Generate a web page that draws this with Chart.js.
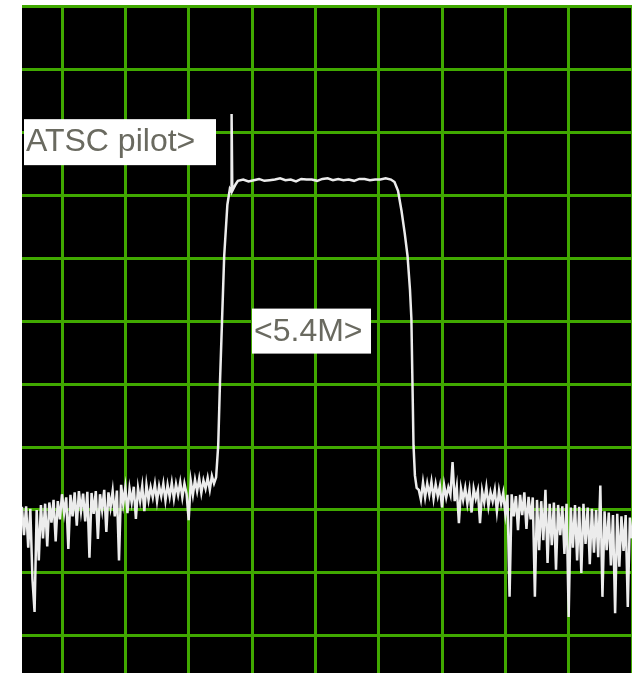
<!DOCTYPE html>
<html>
<head>
<meta charset="utf-8">
<script src="https://cdn.jsdelivr.net/npm/chart.js@4/dist/chart.umd.min.js"></script>
<style>
    body { margin: 0; background: #ffffff; }
    #wrap { position: relative; width: 632px; height: 673px; }
</style>
</head>
<body>
<div id="wrap"><canvas id="spectrum"></canvas></div>
<script>
// sweep readings, frequency offset in MHz (1.8 MHz / div) and level in dB (10 dB / div)
const leftFloorMHz = [
    -1.14, -1.08, -1.02, -0.96, -0.90, -0.84, -0.78, -0.72, -0.66, -0.60,
    -0.54, -0.48, -0.42, -0.36, -0.30, -0.24, -0.18, -0.12, -0.06, 0.00,
    0.06, 0.12, 0.18, 0.24, 0.30, 0.36, 0.42, 0.48, 0.54, 0.60,
    0.66, 0.72, 0.78, 0.84, 0.90, 0.96, 1.02, 1.08, 1.14, 1.20,
    1.26, 1.32, 1.38, 1.44, 1.50, 1.56, 1.62, 1.68, 1.74, 1.80,
    1.86, 1.92, 1.98, 2.04, 2.10, 2.16, 2.22, 2.28, 2.34, 2.40,
    2.46, 2.52, 2.58, 2.64, 2.70, 2.76, 2.82, 2.88, 2.94, 3.00,
    3.06, 3.12, 3.18, 3.24, 3.30, 3.36, 3.42, 3.48, 3.54, 3.60,
    3.66, 3.72, 3.78, 3.84, 3.90, 3.96, 4.02, 4.08, 4.14, 4.20,
    4.26, 4.32
];
const leftFloorDb = [
    -79.5, -84.0, -79.4, -86.0, -79.8, -91.0, -96.2, -80.0, -88.0, -79.2,
    -84.5, -79.0, -85.8, -78.8, -82.0, -78.4, -85.0, -78.6, -81.5, -77.5,
    -80.5, -78.0, -86.2, -77.6, -81.0, -77.2, -82.5, -77.0, -80.2, -77.4,
    -81.8, -77.1, -87.6, -77.3, -80.6, -77.0, -84.6, -77.5, -80.0, -76.8,
    -83.5, -77.2, -79.6, -77.0, -81.0, -76.9, -88.0, -76.0, -79.0, -76.4,
    -80.5, -76.6, -78.8, -76.3, -81.4, -76.5, -78.6, -76.2, -80.2, -76.0,
    -78.4, -76.4, -78.0, -75.9, -78.6, -76.2, -77.8, -75.8, -78.5, -76.0,
    -77.9, -75.7, -78.2, -75.9, -77.6, -75.6, -78.0, -75.8, -77.4, -81.6,
    -75.4, -77.6, -75.2, -77.0, -75.0, -77.3, -75.3, -76.6, -74.9, -76.8,
    -74.6, -75.8
];

const channelMHz = [
    4.38, 4.44, 4.49, 4.55, 4.61, 4.70, 4.77, 4.81, 4.82, 4.84,
    4.94, 5.00, 5.15, 5.30, 5.45, 5.60, 5.75, 5.90, 6.05, 6.20,
    6.35, 6.50, 6.65, 6.80, 6.95, 7.10, 7.25, 7.40, 7.55, 7.70,
    7.85, 8.00, 8.15, 8.30, 8.45, 8.60, 8.75, 8.90, 9.05, 9.20,
    9.35, 9.45, 9.55, 9.65, 9.74, 9.82, 9.89, 9.93, 9.96, 9.99,
    10.03, 10.08
];
const channelDb = [
    -74.8, -69.7, -59.7, -49.6, -39.6, -31.5, -29.0, -29.4, -17.1, -29.3,
    -28.2, -27.7, -27.5, -27.8, -27.6, -27.4, -27.7, -27.6, -27.5, -27.3,
    -27.6, -27.5, -27.8, -27.4, -27.5, -27.5, -27.7, -27.4, -27.3, -27.6,
    -27.4, -27.6, -27.5, -27.7, -27.4, -27.4, -27.6, -27.5, -27.5, -27.3,
    -27.5, -27.9, -29.3, -32.5, -36.0, -39.6, -45.0, -49.6, -59.7, -69.7,
    -74.5, -76.5
];

const rightFloorMHz = [
    10.14, 10.20, 10.26, 10.32, 10.38, 10.44, 10.50, 10.56, 10.62, 10.68,
    10.74, 10.80, 10.86, 10.92, 10.98, 11.04, 11.10, 11.16, 11.22, 11.28,
    11.34, 11.40, 11.46, 11.52, 11.58, 11.64, 11.70, 11.76, 11.82, 11.88,
    11.94, 12.00, 12.06, 12.12, 12.18, 12.24, 12.30, 12.36, 12.42, 12.48,
    12.54, 12.60, 12.66, 12.72, 12.78, 12.84, 12.90, 12.96, 13.02, 13.08,
    13.14, 13.20, 13.26, 13.32, 13.38, 13.44, 13.50, 13.56, 13.62, 13.68,
    13.74, 13.80, 13.86, 13.92, 13.98, 14.04, 14.10, 14.16, 14.22, 14.28,
    14.34, 14.40, 14.46, 14.52, 14.58, 14.64, 14.70, 14.76, 14.82, 14.88,
    14.94, 15.00, 15.06, 15.12, 15.18, 15.24, 15.30, 15.36, 15.42, 15.48,
    15.54, 15.60, 15.66, 15.72, 15.78, 15.84, 15.90, 15.96, 16.02, 16.08,
    16.14, 16.20
];
const rightFloorDb = [
    -76.8, -78.4, -75.6, -78.0, -75.8, -77.6, -75.5, -78.2, -75.9, -77.8,
    -76.2, -79.6, -76.0, -78.0, -76.4, -77.6, -72.4, -78.6, -76.3, -82.1,
    -76.6, -78.4, -76.5, -79.0, -76.8, -80.4, -76.6, -78.2, -76.9, -82.1,
    -77.0, -78.8, -76.4, -79.4, -77.2, -78.6, -76.8, -80.2, -77.0, -79.0,
    -77.3, -80.6, -77.6, -93.8, -77.5, -81.0, -77.8, -83.2, -77.6, -80.8,
    -77.2, -83.0, -77.9, -81.5, -78.0, -93.8, -78.4, -86.4, -78.6, -84.8,
    -76.8, -88.4, -79.0, -85.6, -78.8, -89.5, -79.2, -84.0, -79.4, -87.0,
    -79.0, -97.0, -79.6, -86.0, -79.2, -88.0, -79.5, -90.0, -79.0, -85.4,
    -79.6, -88.6, -79.8, -86.8, -80.0, -87.5, -76.1, -93.8, -80.2, -86.4,
    -80.4, -88.8, -80.8, -96.4, -80.6, -89.0, -81.0, -86.5, -80.8, -95.4,
    -81.2, -84.5
];

// graticule
const freqTicks = [0, 1.8, 3.6, 5.4, 7.2, 9.0, 10.8, 12.6, 14.4, 16.2];
const levelTicks = [-100, -90, -80, -70, -60, -50, -40, -30, -20, -10, 0];

// marker boxes, anchored at their top-left corner in data units
const notes = [
    { text: "ATSC pilot>", mhz: -1.08, db: -17.9, w: 192, h: 46 },
    { text: "<5.4M>", mhz: 5.40, db: -48.0, w: 119, h: 45 }
];

let freqs = leftFloorMHz.concat(channelMHz, rightFloorMHz);
let levels = leftFloorDb.concat(channelDb, rightFloorDb);
let points = freqs.map((f, i) => ({ x: f, y: levels[i] }));

const screenPlugin = {
    id: "screen",
    beforeDraw(chart) {
        const { ctx, chartArea } = chart;
        ctx.save();
        ctx.fillStyle = "#000000";
        ctx.fillRect(chartArea.left, chartArea.top - 1.5, chartArea.right - chartArea.left, chartArea.bottom - chartArea.top + 1.5);
        ctx.restore();
    },
    afterDraw(chart) {
        const { ctx, scales } = chart;
        ctx.save();
        ctx.font = "32px 'Liberation Sans', Arial, sans-serif";
        ctx.textBaseline = "alphabetic";
        notes.forEach(n => {
            let x = scales.x.getPixelForValue(n.mhz);
            let y = scales.y.getPixelForValue(n.db);
            ctx.fillStyle = "#ffffff";
            ctx.fillRect(x, y, n.w, n.h);
            ctx.fillStyle = "#6a6a60";
            ctx.fillText(n.text, x + 2, y + 32);
        });
        ctx.restore();
    }
};

let ctx = document.getElementById("spectrum").getContext("2d");

let spectrumChart = new Chart(ctx, {
    type: "line",
    data: {
        datasets: [{
            data: points,
            borderColor: "#ececec",
            borderWidth: 2.5,
            pointRadius: 0,
            tension: 0,
            fill: false
        }]
    },
    options: {
        responsive: true,
        maintainAspectRatio: false,
        animation: false,
        layout: { padding: { left: 22, top: 6.5, right: 0, bottom: 0 } },
        plugins: {
            legend: { display: false },
            tooltip: { enabled: false }
        },
        scales: {
            x: {
                type: "linear",
                min: -1.137,
                max: 16.2,
                afterBuildTicks: s => { s.ticks = freqTicks.map(v => ({ value: v })); },
                ticks: { display: false },
                border: { display: false },
                grid: { color: "#40a800", lineWidth: 3, drawTicks: false }
            },
            y: {
                type: "linear",
                min: -105.9,
                max: 0,
                afterBuildTicks: s => { s.ticks = levelTicks.map(v => ({ value: v })); },
                ticks: { display: false },
                border: { display: false },
                grid: { color: "#40a800", lineWidth: 3, drawTicks: false }
            }
        }
    },
    plugins: [screenPlugin]
});
</script>
</body>
</html>
